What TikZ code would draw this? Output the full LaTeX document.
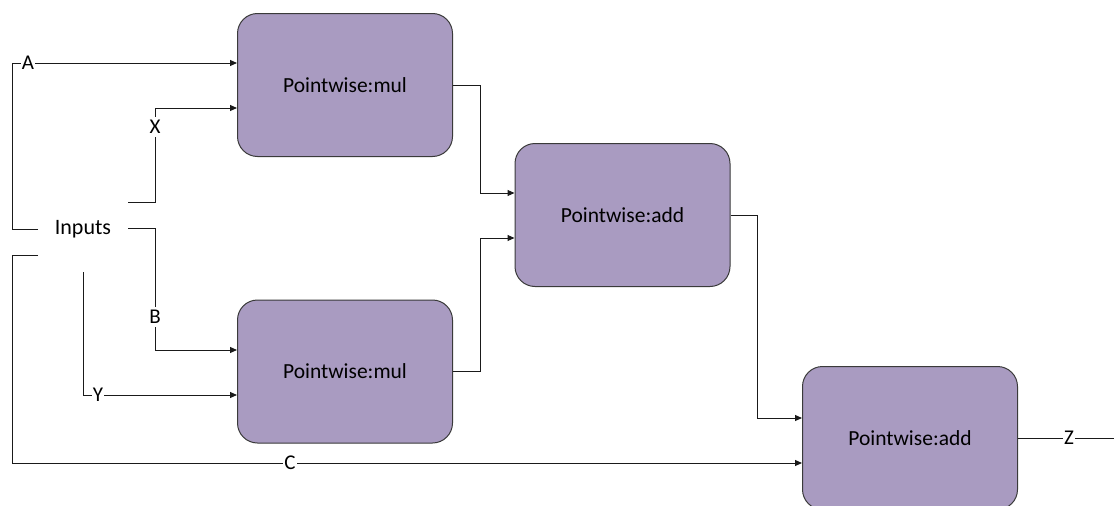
\documentclass[tikz,border=0pt]{standalone}
\usepackage{fontspec}
\setmainfont{Carlito}
\usetikzlibrary{arrows.meta,calc}
\definecolor{boxfill}{HTML}{A99BC1}
\definecolor{boxline}{HTML}{3A3A3A}
\definecolor{wirecol}{HTML}{1A1A1A}
\begin{document}
\begin{tikzpicture}[x=1pt,y=-1pt,
  box/.style={draw=boxline, line width=1pt, fill=boxfill, rounded corners=20pt,
    minimum width=215pt, minimum height=143pt, font=\fontsize{21.5}{26}\selectfont},
  wire/.style={draw=wirecol, line width=1pt},
  arr/.style={wire, -{Triangle[length=7pt,width=6pt]}},
  lab/.style={fill=white, inner xsep=1pt, inner ysep=3pt, font=\fontsize{21}{25}\selectfont},
  inp/.style={inner sep=0pt, font=\fontsize{22}{26}\selectfont}]
\useasboundingbox (0,0) rectangle (1114,506);
\node[box] (mul1) at (345,85) {Pointwise:mul};
\node[box] (mul2) at (345,371.5) {Pointwise:mul};
\node[box] (add1) at (622.5,215) {Pointwise:add};
\node[box] (add2) at (910,438) {Pointwise:add};
\node[inp] (inputs) at (83,229) {Inputs};
\coordinate (pA) at (38,229);
\coordinate (pC) at (38,255);
\coordinate (pX) at (128,202);
\coordinate (pB) at (128,228);
\coordinate (pY) at (83,272);
\coordinate (out) at (1114,438);
% wires
\draw[arr] (pA) -- (12,229) -- (12,63) -- (mul1.west |- 0,63);
\draw[arr] (pX) -- (155,202) -- (155,108) -- (mul1.west |- 0,108);
\draw[arr] (pB) -- (155,228) -- (155,350) -- (mul2.west |- 0,350);
\draw[arr] (pY) -- (83,395) -- (mul2.west |- 0,395);
\draw[arr] (pC) -- (12,255) -- (12,463) -- (add2.west |- 0,463);
\draw[arr] (mul1.east) -- (480,85) -- (480,193) -- (add1.west |- 0,193);
\draw[arr] (mul2.east) -- (480,371.5) -- (480,238) -- (add1.west |- 0,238);
\draw[arr] (add1.east) -- (757,215) -- (757,418) -- (add2.west |- 0,418);
\draw[wire] (add2.east) -- (out);
% labels
\node[lab] (lA) at (28,63) {A};
\node[lab] (lX) at (155,127) {X};
\node[lab] (lB) at (155,317) {B};
\node[lab] (lY) at (98,395) {Y};
\node[lab] (lC) at (290,463) {C};
\node[lab] (lZ) at (1069,438) {Z};
\end{tikzpicture}
\end{document}
